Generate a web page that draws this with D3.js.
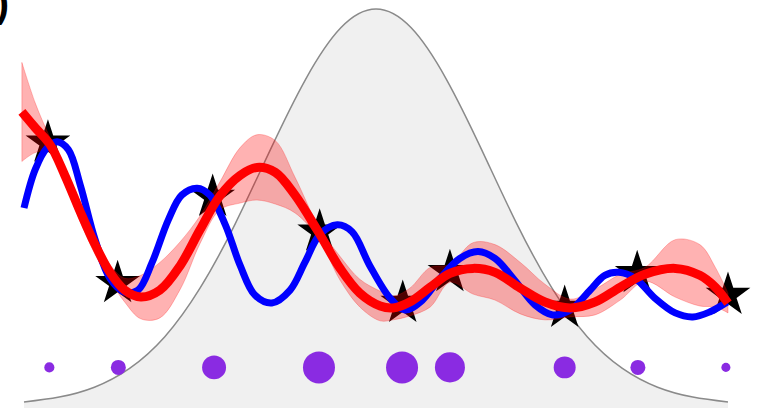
<!DOCTYPE html>
<html>
<head>
<meta charset="utf-8">
<script src="https://cdn.jsdelivr.net/npm/d3@7"></script>
<style>
  html, body { margin: 0; padding: 0; background: #fff; }
  svg { display: block; }
</style>
</head>
<body>
<div id="chart"></div>
<script>
// ---------------- data ----------------
// prior density (grey bell)
const priorX = [0,0.5,1,1.5,2,2.5,3,3.5,4,4.5,5,5.5,6,6.5,7,7.5,8,8.5,9,9.5,10];
const priorY = [0.03,0.08,0.18,0.37,0.69,1.18,1.83,2.58,3.29,3.81,4.0,3.81,3.29,2.58,1.83,1.18,0.69,0.37,0.18,0.08,0.03];

// true function (blue)
const trueX = [0,0.16,0.33,0.47,0.63,0.80,1.01,1.22,1.43,1.62,1.82,2.05,2.24,2.46,2.64,2.86,3.07,3.28,3.52,3.78,3.99,4.20,4.45,4.66,4.91,5.20,5.41,5.63,5.91,6.19,6.45,6.69,6.97,7.26,7.51,7.76,8.04,8.25,8.45,8.68,8.96,9.25,9.50,9.74,9.99];
const trueY = [1.99,2.38,2.60,2.66,2.58,2.22,1.67,1.28,1.14,1.16,1.44,1.87,2.12,2.19,2.12,1.82,1.41,1.11,1.03,1.16,1.44,1.72,1.82,1.75,1.41,1.08,0.96,1.04,1.28,1.48,1.55,1.48,1.26,1.01,0.91,0.96,1.16,1.31,1.34,1.28,1.08,0.93,0.89,0.94,1.04];

// posterior mean (red) and its uncertainty half-width
const meanX = [-0.03,0.16,0.37,0.58,0.80,1.01,1.22,1.43,1.66,1.93,2.22,2.50,2.78,3.07,3.31,3.57,3.85,4.18,4.49,4.77,5.06,5.24,5.48,5.77,6.05,6.38,6.69,7.05,7.40,7.76,8.11,8.47,8.82,9.25,9.60,9.82,10.0];
const meanY = [2.96,2.80,2.63,2.32,1.95,1.62,1.34,1.16,1.09,1.16,1.41,1.77,2.11,2.32,2.40,2.35,2.12,1.75,1.38,1.13,1.00,0.98,1.04,1.19,1.33,1.38,1.34,1.18,1.04,0.98,1.04,1.19,1.32,1.38,1.31,1.19,1.03];
const meanHalf = [0.50,0.25,0.07,0.08,0.10,0.10,0.08,0.12,0.22,0.28,0.24,0.14,0.14,0.28,0.33,0.32,0.18,0.06,0.12,0.14,0.15,0.12,0.14,0.20,0.09,0.26,0.28,0.26,0.18,0.09,0.13,0.13,0.07,0.29,0.31,0.20,0.10];

// observations (stars)
const obsX = [0.34,1.33,2.68,4.20,5.38,6.05,7.68,8.71,10.0];
const obsY = [2.65,1.23,2.10,1.75,1.03,1.34,0.98,1.33,1.11];

// sample weights (purple dots)
const dotX = [0.36,1.34,2.70,4.19,5.37,6.05,7.68,8.72,9.97];
const dotY = [0.38,0.38,0.38,0.38,0.38,0.38,0.38,0.38,0.38];
const dotW = [0.10,0.22,0.56,1.00,1.00,0.88,0.47,0.22,0.08];

const panelLabel = "(b)";

// ---------------- drawing ----------------
const W = 758, H = 409;
const svg = d3.select("#chart").append("svg")
  .attr("width", W).attr("height", H)
  .style("background", "#fff");

const x = d3.scaleLinear().domain([0, 10]).range([24, 728]);
const y = d3.scaleLinear().domain([0, 4]).range([405, 9]);
const r = d3.scaleSqrt().domain([0, 1]).range([0, 16]);

// prior bell
const prior = priorX.map((v, i) => [v, priorY[i]]);
svg.append("path")
  .datum(prior)
  .attr("d", d3.area().x(d => x(d[0])).y0(y(-0.03)).y1(d => y(d[1])).curve(d3.curveNatural))
  .attr("fill", "#f0f0f0");
svg.append("path")
  .datum(prior)
  .attr("d", d3.line().x(d => x(d[0])).y(d => y(d[1])).curve(d3.curveNatural))
  .attr("fill", "none")
  .attr("stroke", "#8a8a8a")
  .attr("stroke-width", 1.5);

// stars
const star = d3.symbol().type(d3.symbolStar).size(620);
svg.append("g").selectAll("path")
  .data(obsX.map((v, i) => [v, obsY[i]]))
  .join("path")
  .attr("d", star)
  .attr("transform", d => `translate(${x(d[0])},${y(d[1])})`)
  .attr("fill", "#000");

// uncertainty band
const band = meanX.map((v, i) => [v, meanY[i], meanHalf[i]]);
svg.append("path")
  .datum(band)
  .attr("d", d3.area()
    .x(d => x(d[0]))
    .y0(d => y(d[1] - d[2]))
    .y1(d => y(d[1] + d[2]))
    .curve(d3.curveCatmullRom))
  .attr("fill", "rgba(255,0,0,0.3)")
  .attr("stroke", "rgba(255,0,0,0.25)")
  .attr("stroke-width", 1);

// blue line
svg.append("path")
  .datum(trueX.map((v, i) => [v, trueY[i]]))
  .attr("d", d3.line().x(d => x(d[0])).y(d => y(d[1])).curve(d3.curveCatmullRom))
  .attr("fill", "none")
  .attr("stroke", "#0000ff")
  .attr("stroke-width", 7);

// red line
svg.append("path")
  .datum(meanX.map((v, i) => [v, meanY[i]]))
  .attr("d", d3.line().x(d => x(d[0])).y(d => y(d[1])).curve(d3.curveCatmullRom))
  .attr("fill", "none")
  .attr("stroke", "#ff0000")
  .attr("stroke-width", 9);

// dots
svg.append("g").selectAll("circle")
  .data(dotX.map((v, i) => [v, dotY[i], dotW[i]]))
  .join("circle")
  .attr("cx", d => x(d[0]))
  .attr("cy", d => y(d[1]))
  .attr("r", d => r(d[2]))
  .attr("fill", "#8a2be2");

// panel label (cut off at the left edge, as in the reference)
svg.append("text")
  .attr("x", 9).attr("y", 17)
  .attr("text-anchor", "end")
  .attr("font-family", "Liberation Sans, Arial, sans-serif")
  .attr("font-size", 40)
  .attr("font-weight", "bold")
  .attr("fill", "#000")
  .text(panelLabel);
</script>
</body>
</html>
